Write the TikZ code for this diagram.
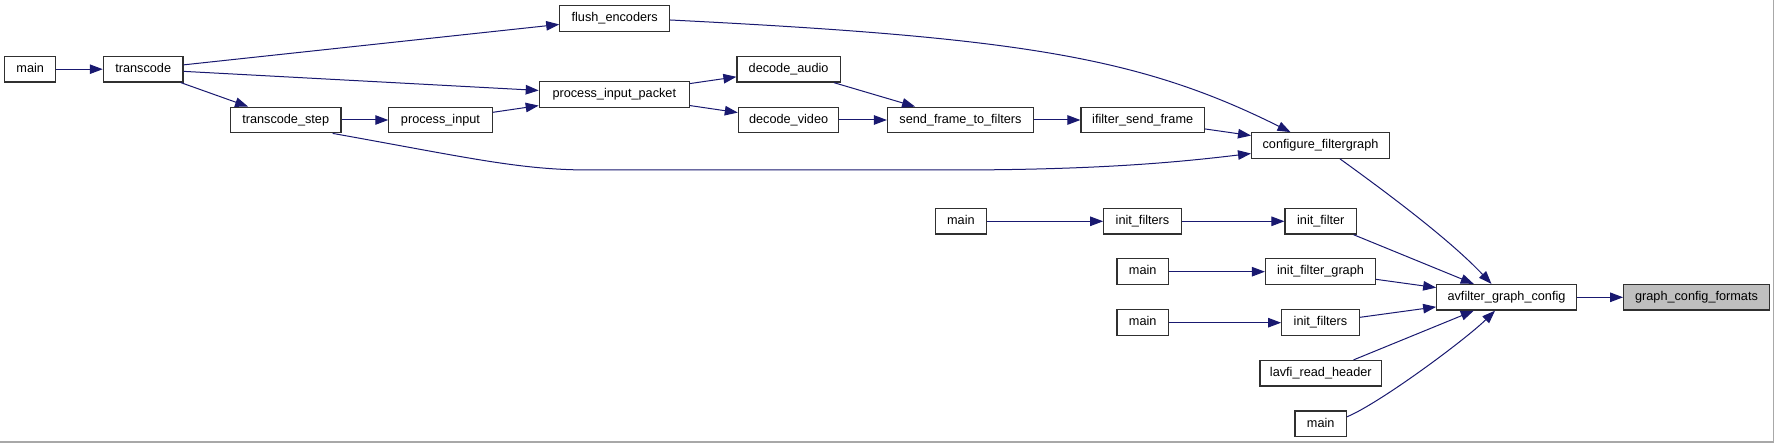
\documentclass[tikz,border=0pt]{standalone}
\usepackage{fontspec}
\setmainfont{Liberation Sans}
\usetikzlibrary{arrows.meta,calc}
\definecolor{edgeblue}{HTML}{191970}
\definecolor{boxborder}{HTML}{303030}
\definecolor{focusfill}{HTML}{BFBFBF}
\definecolor{framegray}{HTML}{A8A8A8}
\begin{document}
\begin{tikzpicture}[x=1pt,y=-1pt,
  fn/.style={draw=boxborder, line width=1.2pt, fill=white, minimum height=25.6pt,
    inner sep=0pt, font=\fontsize{12.7}{14}\selectfont, text height=9.2pt, text depth=2.7pt},
  callarrow/.style={draw=edgeblue, line width=1pt, -{Triangle[length=13pt,width=9.5pt]}}]
\useasboundingbox (0,0) rectangle (1775,443);
\fill[white] (0,0) rectangle (1775,443);
\draw[framegray, line width=1.5pt] (0,442.2) -- (1773.3,442.2) -- (1773.3,0);

\node[fn, minimum width=51pt] (mainA) at (30.2,69.2) {main};
\node[fn, minimum width=79.7pt] (transcode) at (143.2,69.2) {transcode};
\node[fn, minimum width=110.6pt] (tstep) at (285.7,120) {transcode\_step};
\node[fn, minimum width=103.3pt] (pinput) at (440.5,120) {process\_input};
\node[fn, minimum width=109.8pt] (flush) at (614.7,18.5) {flush\_encoders};
\node[fn, minimum width=150pt] (pip) at (614.3,94.5) {process\_input\_packet};
\node[fn, minimum width=103.2pt] (daudio) at (788.6,69.3) {decode\_audio};
\node[fn, minimum width=100.4pt] (dvideo) at (788.6,120) {decode\_video};
\node[fn, minimum width=146pt] (sftf) at (960.5,120) {send\_frame\_to\_filters};
\node[fn, minimum width=123.4pt] (isf) at (1142.7,120) {ifilter\_send\_frame};
\node[fn, minimum width=137.8pt] (cfg) at (1320.5,145.5) {configure\_filtergraph};
\node[fn, minimum width=51.3pt] (mainB) at (960.9,221.3) {main};
\node[fn, minimum width=77.5pt] (ifsA) at (1142.5,221.3) {init\_filters};
\node[fn, minimum width=71.5pt] (ifl) at (1320.8,221.3) {init\_filter};
\node[fn, minimum width=51.4pt] (mainC) at (1142.7,271.7) {main};
\node[fn, minimum width=110pt] (ifg) at (1320.5,271.7) {init\_filter\_graph};
\node[fn, minimum width=139.5pt] (agc) at (1506.5,297.3) {avfilter\_graph\_config};
\node[fn, fill=focusfill, minimum width=145.6pt] (gcf) at (1696.5,297.3) {graph\_config\_formats};
\node[fn, minimum width=51.4pt] (mainD) at (1142.7,322.7) {main};
\node[fn, minimum width=77.6pt] (ifsB) at (1320.5,322.7) {init\_filters};
\node[fn, minimum width=121.6pt] (lavfi) at (1320.8,373.3) {lavfi\_read\_header};
\node[fn, minimum width=51.4pt] (mainE) at (1320.7,423.8) {main};

\draw[callarrow] (mainA) -- (transcode);
\draw[callarrow] (transcode) -- (flush);
\draw[callarrow] (transcode) -- (pip);
\draw[callarrow] (transcode) -- (tstep);
\draw[callarrow] (tstep) -- (pinput);
\draw[callarrow] (pinput) -- (pip);
\draw[callarrow] (pip) -- (daudio);
\draw[callarrow] (pip) -- (dvideo);
\draw[callarrow] (daudio) -- (sftf);
\draw[callarrow] (dvideo) -- (sftf);
\draw[callarrow] (sftf) -- (isf);
\draw[callarrow] (isf) -- (cfg);
\draw[callarrow] ($(flush.east)+(0,1.5)$) .. controls (1020,37.5) and (1140,57) .. ($(cfg.north)+(-30,0)$);
\draw[callarrow] ($(tstep.south)+(47,0)$) .. controls (470,158) and (520,170) .. (590,170) -- (950,170) .. controls (1100,170) and (1180,162) .. ($(cfg.west)+(0,8)$);
\draw[callarrow] ($(cfg.south)+(19.5,0)$) .. controls (1390,195) and (1450,240) .. ($(agc.north)+(-15,0)$);
\draw[callarrow] (mainB) -- (ifsA);
\draw[callarrow] (ifsA) -- (ifl);
\draw[callarrow] (ifl) -- (agc);
\draw[callarrow] (mainC) -- (ifg);
\draw[callarrow] (ifg) -- (agc);
\draw[callarrow] (agc) -- (gcf);
\draw[callarrow] (mainD) -- (ifsB);
\draw[callarrow] (ifsB) -- (agc);
\draw[callarrow] (lavfi) -- (agc);
\draw[callarrow] ($(mainE.east)+(0,-7)$) .. controls (1380,403) and (1465,340) .. ($(agc.south)+(-11.5,0)$);
\end{tikzpicture}
\end{document}
